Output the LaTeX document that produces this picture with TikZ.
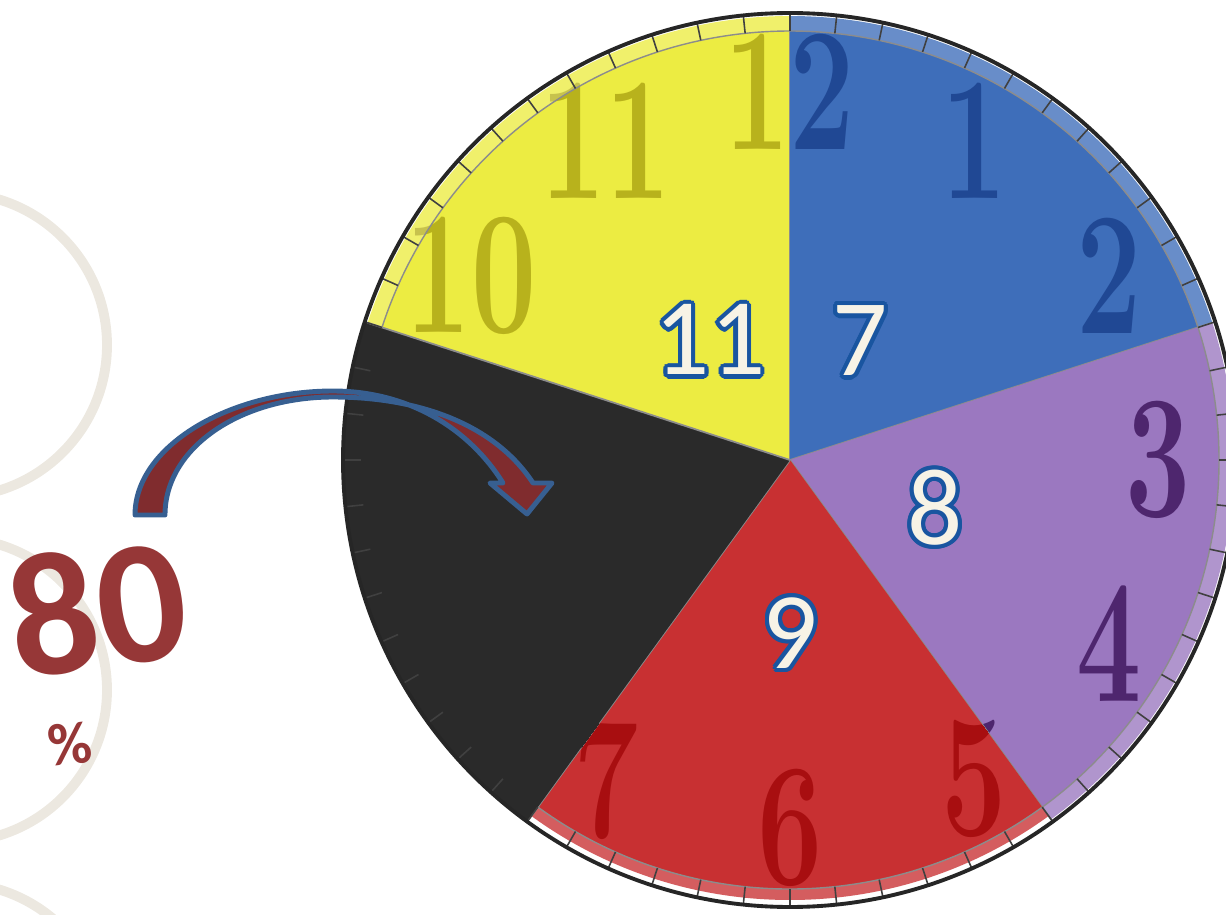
\documentclass[tikz,border=0pt]{standalone}
\usepackage{fontspec}
\usepackage{graphicx}
\usepackage{contour}
\newfontfamily\calibri{Carlito}
\contourlength{1.2pt}
\usetikzlibrary{calc}

\definecolor{amarillo}{RGB}{236,236,66}
\definecolor{amarilloN}{RGB}{184,178,28}
\definecolor{azul}{RGB}{62,110,186}
\definecolor{azulN}{RGB}{32,72,148}
\definecolor{morado}{RGB}{155,120,192}
\definecolor{moradoN}{RGB}{78,38,110}
\definecolor{rojo}{RGB}{200,48,50}
\definecolor{rojoN}{RGB}{168,14,16}
\definecolor{negro}{RGB}{42,42,42}
\definecolor{crema}{RGB}{247,243,230}
\definecolor{borde}{RGB}{25,85,160}
\definecolor{vino}{RGB}{150,55,55}
\definecolor{vinoF}{RGB}{128,44,46}
\definecolor{azulF}{RGB}{55,95,145}
\definecolor{beige}{RGB}{236,232,224}

\begin{document}
\begin{tikzpicture}[
		% --- ESTILOS ---
		x=0.01cm, y=0.01cm,
		numeral/.style = {font=\bfseries\fontsize{50}{50}\selectfont, inner sep=0pt},
		etiqueta/.style = {font=\calibri\fontsize{31}{31}\selectfont, text=crema, inner sep=0pt},
		porcentaje/.style = {font=\calibri\bfseries, text=vino, inner sep=0pt},
		aro/.style = {draw=beige, line width=2.8pt},
		marca/.style = {line width=0.45pt, black!75},
		division/.style = {line width=0.5pt, black!45},
		flecha/.style = {draw=azulF, line width=1.4pt, fill=vinoF, line join=round}
		]
		
		\useasboundingbox (0,0) rectangle (1226,914);
		\clip (0,0) rectangle (1226,914);
		
		% --- CIRCULOS DE FONDO ---
		\foreach \yc in {569,224,-121}
		\draw [aro] (-45,\yc) circle (152);
		
		% --- RELOJ ---
		\coordinate (C) at (790,454);
		\fill [white] (C) circle (447);
		
		% Sectores con sus numeros
		\foreach \ini/\fin/\col/\num/\rad in {90/162/amarillo/amarilloN/444, 18/90/azul/azulN/444, -54/18/morado/moradoN/444, -126/-54/rojo/rojoN/440, 162/234/negro/negro/447}{
			\begin{scope}
				\clip (C) -- ++(\ini:450) arc[start angle=\ini, end angle=\fin, radius=450] -- cycle;
				\fill [\col] (C) circle (\rad);
				\foreach \h in {1,...,12}
				\node [numeral, text=\num] at ($(C)+({90-30*\h}:368)$) {\scalebox{0.66}[1]{\h}};
			\end{scope}
			\draw [division] (C) -- ++(\ini:444);
		}
		
		% Aro de minutos (sin el sector negro)
		\fill [white, opacity=0.22] ($(C)+(-126:447)$) arc[start angle=-126, end angle=162, radius=447]
			-- ($(C)+(162:429)$) arc[start angle=162, end angle=-126, radius=429] -- cycle;
		\draw [line width=0.4pt, black!45] ($(C)+(-126:429)$) arc[start angle=-126, end angle=162, radius=429];
		\foreach \m in {0,...,59}
		\draw [marca] ($(C)+(\m*6:429)$) -- ($(C)+(\m*6:446)$);
		\draw [line width=1.1pt, black!85] (C) circle (447);
		
		% --- ETIQUETAS DE LOS SECTORES ---
		\node [etiqueta] (l11) at (710,572) {\contour{borde}{11}};
		\node [etiqueta] (l7) at (860,571) {\contour{borde}{7}};
		\node [etiqueta] (l8) at (935,404) {\contour{borde}{8}};
		\node [etiqueta] (l9) at (790,279) {\contour{borde}{9}};
		
		% --- VALOR ---
		\node [porcentaje, font=\calibri\bfseries\fontsize{50}{50}\selectfont, rotate=8] (valor) at (97,306) {80};
		\node [porcentaje, font=\calibri\bfseries\fontsize{17}{17}\selectfont, rotate=6] (signo) at (70,170) {\%};
		
		% --- FLECHA CURVA ---
		\coordinate (cola_ext) at (135,399);
		\coordinate (cola_int) at (165,399);
		\coordinate (cima_ext) at (333,523);
		\coordinate (cima_int) at (333,517);
		\coordinate (punta) at (527,400);
		\draw [flecha] (cola_ext) .. controls (135,468) and (230,523) .. (cima_ext)
			.. controls (410,523) and (470,484) .. (503,431) -- (490,431) -- (punta)
			-- (552,431) -- (533,431) .. controls (495,489) and (420,517) .. (cima_int)
			.. controls (240,517) and (165,466) .. (cola_int) -- cycle;
		
	\end{tikzpicture}
\end{document}
